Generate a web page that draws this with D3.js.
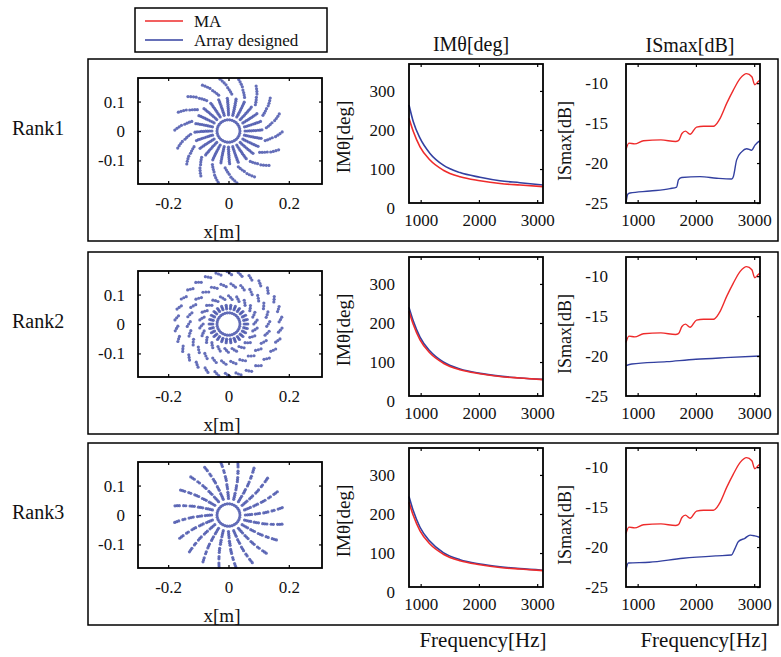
<!DOCTYPE html>
<html>
<head>
<meta charset="utf-8">
<script src="https://cdn.jsdelivr.net/npm/d3@7"></script>
<style>
body { margin: 0; background: #fff; }
text { font-family: "Liberation Serif", "Times New Roman", serif; fill: #111; }
</style>
</head>
<body>
<svg id="chart" width="781" height="657"></svg>
<script>

// ---- data ----
var rankLabels = ["Rank1", "Rank2", "Rank3"];
var legendNames = ["MA", "Array designed"];
var lineColors = ["#ee2b2b", "#3340a0"];

var posTicksX = [-0.2, 0, 0.2];
var posTicksY = [-0.1, 0, 0.1];
var freqTicks = [1000, 2000, 3000];
var imTicks = [0, 100, 200, 300];
var isTicks = [-25, -20, -15, -10];

// IMtheta [deg]
var imFreq = [800, 874, 989, 1160, 1389, 1675, 2019, 2362, 2705, 3100];
var imMA = [230, 196, 157, 123, 97, 80, 70, 63, 59, 55];
var imRank1 = [264, 221, 179, 140, 110, 91, 79, 70, 65, 59];
var imRank2 = [240, 205, 164, 128, 100, 82, 71, 64, 59, 55.5];
var imRank3 = [245, 208, 166, 130, 101, 83, 72, 65, 60, 56];

// ISmax [dB]
var isMAFreq = [800, 850, 950, 1100, 1400, 1650, 1700, 1760, 1820, 1900, 2010, 2130, 2300, 2400, 2530, 2640, 2760, 2870, 2960, 3010, 3070, 3100];
var isMA = [-18.3, -17.5, -17.6, -17.2, -17.1, -17.3, -17.2, -16.3, -16.0, -16.4, -15.5, -15.4, -15.4, -14.6, -12.5, -10.9, -9.4, -8.8, -9.2, -10.2, -9.8, -9.6];
var isFreq1 = [800, 830, 869, 1212, 1555, 1670, 1700, 1756, 2070, 2356, 2614, 2642, 2699, 2785, 2871, 2957, 3014, 3100];
var isRank1 = [-25, -23.9, -23.75, -23.5, -23.2, -23.0, -22.1, -21.8, -21.7, -21.9, -22.0, -21.7, -19.6, -18.6, -18.2, -18.4, -17.75, -17.2];
var isFreq2 = [800, 900, 1500, 2000, 2500, 3100];
var isRank2 = [-21.2, -21.0, -20.7, -20.4, -20.2, -20.0];
var isFreq3 = [800, 840, 1200, 1780, 2360, 2610, 2670, 2730, 2840, 2930, 3010, 3100];
var isRank3 = [-22.8, -22.0, -21.9, -21.4, -21.1, -21.0, -20.2, -19.3, -18.9, -18.5, -18.6, -18.8];

// microphone layouts, polar: inner ring + groups of arms (radius in m, twist in deg)
var ringR = [0.038, 0.038, 0.038];
var ringN = [30, 30, 30];
var rank1Arms = [
  {n: 24, phase: 0, radii: [0.055, 0.062, 0.069, 0.076, 0.083, 0.090, 0.097, 0.104, 0.111], twist: [0, 0, 0.5, 0.5, 1, 1, 1.5, 1.5, 2]},
  {n: 18, phase: 5, radii: [0.126, 0.133, 0.140, 0.147], twist: [0, 2, 4, 6]},
  {n: 18, phase: 13, radii: [0.157, 0.164, 0.171, 0.178], twist: [0, 2, 4, 6]}
];
var rank2Arms = [
  {n: 26, phase: 0, radii: [0.052, 0.058, 0.064], twist: [0, 0, 0]},
  {n: 22, phase: 4, radii: [0.084, 0.090, 0.096], twist: [-4, 0, 4]},
  {n: 26, phase: 0, radii: [0.127, 0.132, 0.137], twist: [-3.5, 0, 3.5]},
  {n: 30, phase: 5, radii: [0.168, 0.173, 0.178], twist: [-2.5, 0, 2.5]}
];
var rank3Arms = [
  {n: 20, phase: 0, radii: [0.056, 0.063, 0.070, 0.077, 0.089, 0.096, 0.103, 0.117, 0.124, 0.131, 0.145, 0.152, 0.166, 0.173, 0.180],
   twist: [0, 0.5, 1, 1.5, 2, 2.5, 3, 3.5, 4, 4.5, 5.5, 6, 7, 7.5, 8]}
];

var imSeries = [imRank1, imRank2, imRank3];
var isFreqs = [isFreq1, isFreq2, isFreq3];
var isSeries = [isRank1, isRank2, isRank3];
var armSets = [rank1Arms, rank2Arms, rank3Arms];

// ---- layout ----
var svg = d3.select("#chart");
var rowTop = [59, 252, 443];
var FONT = "Liberation Serif";

function polarPoints(k) {
  var pts = [];
  for (var i = 0; i < ringN[k]; i++) {
    var a = i / ringN[k] * 2 * Math.PI;
    pts.push([ringR[k] * Math.cos(a), ringR[k] * Math.sin(a)]);
  }
  armSets[k].forEach(function(g) {
    for (var j = 0; j < g.n; j++) {
      var base = g.phase + j * 360 / g.n;
      g.radii.forEach(function(r, m) {
        var a = (base + g.twist[m]) * Math.PI / 180;
        pts.push([r * Math.cos(a), r * Math.sin(a)]);
      });
    }
  });
  return pts;
}

function frame(g, x, y, xt, yt, fx, fy, padX, padY, leftTickSize) {
  var xr = x.range(), yr = y.range();
  var bottom = g.append("g").attr("transform", "translate(0," + yr[0] + ")")
    .call(d3.axisBottom(x).tickValues(xt).tickFormat(fx).tickSizeInner(-3).tickSizeOuter(0).tickPadding(padX));
  g.append("g").attr("transform", "translate(0," + yr[1] + ")")
    .call(d3.axisTop(x).tickValues(xt).tickFormat("").tickSizeInner(-3).tickSizeOuter(0));
  var left = g.append("g").attr("transform", "translate(" + xr[0] + ",0)")
    .call(d3.axisLeft(y).tickValues(yt).tickFormat(fy).tickSizeInner(leftTickSize).tickSizeOuter(0).tickPadding(padY));
  g.append("g").attr("transform", "translate(" + xr[1] + ",0)")
    .call(d3.axisRight(y).tickValues(yt.filter(function(v) { return y(v) <= yr[0]; })).tickFormat("").tickSizeInner(-3).tickSizeOuter(0));
  [bottom, left].forEach(function(a) {
    a.attr("font-size", 17).attr("font-family", FONT);
    a.selectAll("text").attr("fill", "#111");
  });
  g.selectAll(".domain").remove();
  g.selectAll(".tick line").attr("stroke", "#000").attr("stroke-width", 1.2);
  g.append("rect")
    .attr("x", xr[0]).attr("y", yr[1])
    .attr("width", xr[1] - xr[0]).attr("height", yr[0] - yr[1])
    .attr("fill", "none").attr("stroke", "#000").attr("stroke-width", 1.8);
}

var fmt = function(d) { return String(d); };

// legend
svg.append("rect").attr("x", 135).attr("y", 8).attr("width", 192).attr("height", 44)
  .attr("fill", "none").attr("stroke", "#000").attr("stroke-width", 1.5);
legendNames.forEach(function(name, i) {
  var ly = 21 + i * 19;
  svg.append("line").attr("x1", 145).attr("x2", 183).attr("y1", ly).attr("y2", ly)
    .attr("stroke", lineColors[i]).attr("stroke-width", 1.5);
  svg.append("text").attr("x", 194).attr("y", ly).attr("dy", "0.35em")
    .attr("font-size", 17).text(name);
});

// column titles and bottom labels
svg.append("text").attr("x", 471).attr("y", 44).attr("dy", "0.35em").attr("text-anchor", "middle")
  .attr("font-size", 20).text("IMθ[deg]");
svg.append("text").attr("x", 690).attr("y", 45).attr("dy", "0.35em").attr("text-anchor", "middle")
  .attr("font-size", 20).text("ISmax[dB]");
svg.append("text").attr("x", 483).attr("y", 640).attr("dy", "0.35em").attr("text-anchor", "middle")
  .attr("font-size", 21).text("Frequency[Hz]");
svg.append("text").attr("x", 704).attr("y", 640).attr("dy", "0.35em").attr("text-anchor", "middle")
  .attr("font-size", 21).text("Frequency[Hz]");

rankLabels.forEach(function(label, k) {
  var top = rowTop[k];
  var g = svg.append("g");

  // outer box
  g.append("rect").attr("x", 88).attr("y", top).attr("width", 690).attr("height", 182)
    .attr("fill", "none").attr("stroke", "#000").attr("stroke-width", 1.5);

  g.append("text").attr("x", 12).attr("y", top + 69).attr("dy", "0.35em")
    .attr("font-size", 20).text(label);

  // array layout
  var xs = d3.scaleLinear().domain([-0.3, 0.31]).range([138, 322]);
  var ys = d3.scaleLinear().domain([-0.18, 0.18]).range([top + 125, top + 19]);
  g.append("g").selectAll("circle").data(polarPoints(k)).join("circle")
    .attr("cx", function(d) { return xs(d[0]); })
    .attr("cy", function(d) { return ys(d[1]); })
    .attr("r", 1.6)
    .attr("fill", "#4a56ad").attr("fill-opacity", 0.85);
  frame(g, xs, ys, posTicksX, posTicksY, fmt, fmt, 13, 13, -3);
  g.append("text").attr("x", 222).attr("y", top + 172).attr("dy", "0.35em").attr("text-anchor", "middle")
    .attr("font-size", 19).text("x[m]");

  // IMtheta
  var xf = d3.scaleLinear().domain([800, 3100]).range([409, 543]);
  var yi = d3.scaleLinear().domain([13, 369]).range([top + 144, top + 5]);
  var lineIm = d3.line().x(function(d) { return xf(d[0]); }).y(function(d) { return yi(d[1]); })
    .curve(d3.curveMonotoneX);
  g.append("path").datum(d3.zip(imFreq, imSeries[k])).attr("d", lineIm)
    .attr("fill", "none").attr("stroke", lineColors[1]).attr("stroke-width", 1.6);
  g.append("path").datum(d3.zip(imFreq, imMA)).attr("d", lineIm)
    .attr("fill", "none").attr("stroke", lineColors[0]).attr("stroke-width", 1.6);
  frame(g, xf, yi, freqTicks, imTicks, fmt, fmt, 11, 14, 0);
  g.append("text").attr("transform", "translate(343," + (top + 78) + ") rotate(-90)")
    .attr("dy", "0.35em").attr("text-anchor", "middle").attr("font-size", 19).text("IMθ[deg]");

  // ISmax
  var xf2 = d3.scaleLinear().domain([800, 3100]).range([626, 760]);
  var yd = d3.scaleLinear().domain([-25, -7.6]).range([top + 144, top + 5]);
  var lineIs = d3.line().x(function(d) { return xf2(d[0]); }).y(function(d) { return yd(d[1]); })
    .curve(d3.curveMonotoneX);
  g.append("path").datum(d3.zip(isMAFreq, isMA)).attr("d", lineIs)
    .attr("fill", "none").attr("stroke", lineColors[0]).attr("stroke-width", 1.4);
  g.append("path").datum(d3.zip(isFreqs[k], isSeries[k])).attr("d", lineIs)
    .attr("fill", "none").attr("stroke", lineColors[1]).attr("stroke-width", 1.4);
  frame(g, xf2, yd, freqTicks, isTicks, fmt, fmt, 11, 18, 0);
  g.append("text").attr("transform", "translate(565," + (top + 82) + ") rotate(-90)")
    .attr("dy", "0.35em").attr("text-anchor", "middle").attr("font-size", 18).text("ISmax[dB]");
});

</script>
</body>
</html>
